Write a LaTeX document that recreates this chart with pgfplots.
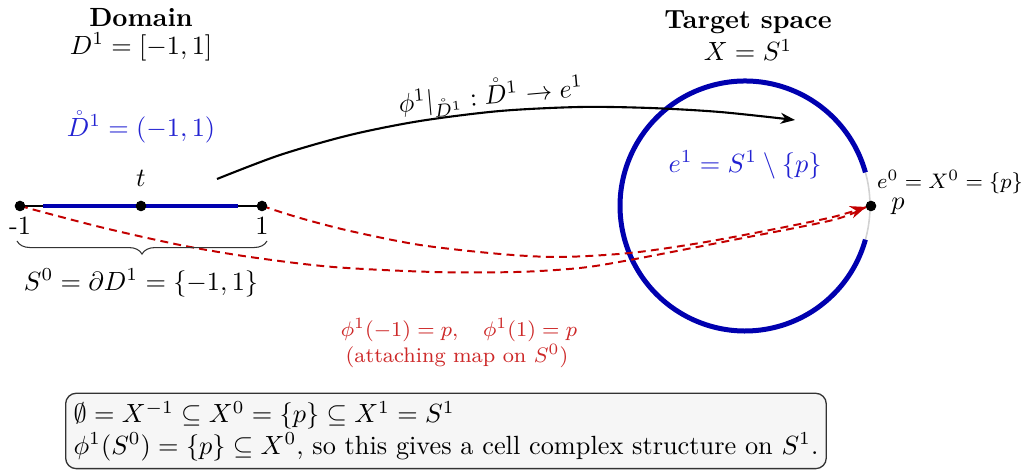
\documentclass[border=0pt]{standalone}
\usepackage{pgfplots}
\pgfplotsset{compat=1.18}
\usepackage{amssymb}
\usetikzlibrary{arrows.meta,decorations.pathreplacing}
\definecolor{cblue}{RGB}{0,0,175}
\definecolor{tblue}{RGB}{35,35,210}
\definecolor{cred}{RGB}{195,0,0}
\definecolor{tred}{RGB}{205,40,40}
\begin{document}
\begin{tikzpicture}
\begin{axis}[width=388.4pt,height=178.6pt,scale only axis,
  xmin=0,xmax=1022,ymin=0,ymax=470,y dir=reverse,
  hide axis,clip=false]
% circle
\draw[gray!35, line width=0.6pt] (axis cs:745,206) circle[radius=47.5pt];
\draw[cblue, line width=1.9pt] (axis cs:865.4,172.4) arc[start angle=15.6, end angle=344.4, radius=47.5pt];
% domain segment
\addplot[black, line width=0.5pt] coordinates {(20,206) (262,206)};
\addplot[cblue, line width=1.6pt] coordinates {(43,206) (238,206)};
% black arrow
\addplot[black, line width=0.8pt, smooth, -{Stealth[length=5.5pt,width=4.2pt]}] coordinates {
 (217,179) (280,155) (350,135) (420,121) (500,111) (580,107) (650,108) (720,112) (795,120)};
% red dashed arrows
\addplot[cred, line width=0.75pt, smooth, dash pattern=on 3pt off 2pt] coordinates {
 (20,206) (100,227) (180,245) (250,257) (333,267) (433,272) (517,272) (580,268) (630,260) (733,240) (833,220) (866,207)};
\addplot[cred, line width=0.75pt, smooth, dash pattern=on 3pt off 2pt, -{Stealth[length=6pt,width=4.8pt]}] coordinates {
 (262,206) (300,218) (350,231) (420,245) (500,254) (560,257) (630,253) (700,243) (770,230) (833,217) (866,207)};
% dots
\addplot[only marks, mark=*, mark size=1.8pt, black] coordinates {(20,206) (141,206) (262,206) (871,206)};
% brace
\draw[black!80, line width=0.4pt, decorate, decoration={brace, mirror, amplitude=5pt}] (axis cs:17,241) -- (axis cs:267,241);
% texts
\node at (axis cs:141,18) {\textbf{Domain}};
\node at (axis cs:141,47) {$D^1=[-1,1]$};
\node[text=tblue] at (axis cs:141,127) {$\mathring{D}^1=(-1,1)$};
\node at (axis cs:141,178) {$t$};
\node at (axis cs:20,226) {-1};
\node at (axis cs:262,226) {1};
\node at (axis cs:141,283) {$S^0=\partial D^1=\{-1,1\}$};
\node at (axis cs:748,22) {\textbf{Target space}};
\node at (axis cs:748,50) {$X=S^1$};
\node[text=tblue] at (axis cs:745,165) {$e^1=S^1\setminus\{p\}$};
\node[font=\footnotesize, inner sep=1pt] at (axis cs:950,182) {$e^0=X^0=\{p\}$};
\node at (axis cs:898,206) {$p$};
\node[rotate=5] at (axis cs:491,96) {$\phi^1|_{\mathring{D}^1}:\mathring{D}^1\to e^1$};
\node[text=tred, font=\footnotesize] at (axis cs:459,330) {$\phi^1(-1)=p,\quad\phi^1(1)=p$};
\node[text=tred, font=\footnotesize] at (axis cs:457,356) {(attaching map on $S^0$)};
\node[draw=black!80, fill=gray!7, rounded corners=4pt, align=left, anchor=west, inner sep=3pt, line width=0.5pt] at (axis cs:65,431)
 {$\emptyset=X^{-1}\subseteq X^0=\{p\}\subseteq X^1=S^1$\\
  $\phi^1(S^0)=\{p\}\subseteq X^0$, so this gives a cell complex structure on $S^1$.};
\end{axis}
\pgfresetboundingbox
\useasboundingbox (current axis.south west) rectangle (current axis.north east);
\end{tikzpicture}
\end{document}
